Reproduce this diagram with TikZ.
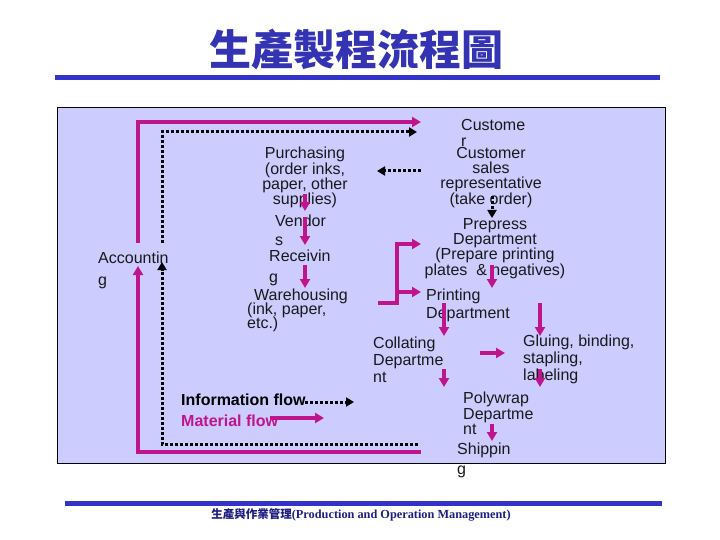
\documentclass[tikz,border=0pt]{standalone}
\usepackage{fontspec}
\setmainfont{Liberation Sans}
\newfontfamily\cjkfont{Noto Sans CJK TC}
\newfontfamily\serifrm{Liberation Serif}
\usetikzlibrary{arrows.meta}
\definecolor{lav}{RGB}{204,204,255}
\definecolor{mag}{RGB}{192,20,140}
\definecolor{ttl}{RGB}{51,51,180}
\definecolor{rulec}{RGB}{51,51,204}
\definecolor{footc}{RGB}{30,30,130}
\definecolor{txt}{RGB}{25,25,25}
\setlength{\lineskiplimit}{-8pt}
\begin{document}
\begin{tikzpicture}[x=1pt,y=-1pt,
  lbl/.style={inner sep=0pt, text=txt, font=\fontsize{16}{15.3}\selectfont},
  lblc/.style={lbl, align=center, anchor=north},
  lbll/.style={lbl, align=left, anchor=north west},
  mflow/.style={draw=mag, line width=3.5pt, -{Triangle[length=9pt,width=10pt]}},
  iflow/.style={draw=black, line width=3pt, dash pattern=on 3pt off 2pt, -{Triangle[length=8pt,width=9pt]}}]
\useasboundingbox (0,0) rectangle (720,540);
\fill[white] (0,0) rectangle (720,540);
\draw[fill=lav, line width=1pt] (57,108) rectangle (665,463);
% title and rules
\node[inner sep=0pt, text=ttl, font=\cjkfont\bfseries\fontsize{42}{42}\selectfont] (title) at (356,50) {生產製程流程圖};
\fill[rulec] (55,75) rectangle (660,80);
\fill[rulec] (65,501) rectangle (662,506);
\node[inner sep=0pt, text=footc] (foot) at (361,515) {{\cjkfont\bfseries\fontsize{11.5}{11.5}\selectfont 生產與作業管理}{\serifrm\bfseries\fontsize{12.3}{13}\selectfont(Production and Operation Management)}};
% labels
\node[lbll] (cust) at (461,119) {Custome\\[0.7pt]r};
\node[lblc] (csr) at (491,147) {Customer\\sales\\representative\\(take order)};
\node[lblc] (prep) at (495,218) {Prepress\\Department\\(Prepare printing\\plates\ \ \& negatives)};
\node[lbll] (print) at (426,289) {Printing\\[2.7pt]Department};
\node[lbll] (coll) at (373,337) {Collating\\[1.7pt]Departme\\[1.7pt]nt};
\node[lbll] (glue) at (523,335) {Gluing, binding,\\[1.7pt]stapling,\\[1.7pt]labeling};
\node[lbll] (poly) at (463,392) {Polywrap\\Departme\\nt};
\node[lbll] (ship) at (457,443) {Shippin\\[4.7pt]g};
\node[lblc] (purch) at (305,147) {Purchasing\\(order inks,\\paper, other\\supplies)};
\node[lbll] (vend) at (275,215) {Vendor\\[3.7pt]s};
\node[lbll] (recv) at (269,250) {Receivin\\[5.7pt]g};
\node[lbll] (ware) at (247,289) {\hspace{7pt}Warehousing\\[-1.3pt](ink, paper,\\[-1.3pt]etc.)};
\node[lbll] (acct) at (98,252) {Accountin\\[6.7pt]g};
\node[inner sep=0pt, anchor=west, font=\bfseries\fontsize{16}{16}\selectfont] (info) at (181,400) {Information flow};
\node[inner sep=0pt, anchor=west, text=mag, font=\bfseries\fontsize{16}{16}\selectfont] (mat) at (181,421) {Material flow};
% coordinates
\coordinate (p1a) at (305,194); \coordinate (p1b) at (305,211);
\coordinate (p2a) at (305,217); \coordinate (p2b) at (305,245);
\coordinate (p3a) at (305,265); \coordinate (p3b) at (305,288);
\coordinate (br0) at (378,303); \coordinate (br1) at (397,303);
\coordinate (br2) at (397,244); \coordinate (br3) at (421,244);
\coordinate (br4) at (397,292); \coordinate (br5) at (421,292);
\coordinate (pp1) at (492,265); \coordinate (pp2) at (492,288);
\coordinate (pc1) at (444,303); \coordinate (pc2) at (444,336);
\coordinate (pg1) at (540,303); \coordinate (pg2) at (540,336);
\coordinate (cg1) at (480,353); \coordinate (cg2) at (505,353);
\coordinate (cp1) at (444,369); \coordinate (cp2) at (444,387);
\coordinate (gp1) at (540,369); \coordinate (gp2) at (540,387);
\coordinate (ps1) at (492,424); \coordinate (ps2) at (492,441);
\coordinate (lp0) at (421,452); \coordinate (lp1) at (138,452); \coordinate (lp2) at (138,266);
\coordinate (up0) at (138,243); \coordinate (up1) at (138,122); \coordinate (up2) at (421,122);
\coordinate (lm1) at (270,418); \coordinate (lm2) at (324,418);
\coordinate (ia0) at (162,243); \coordinate (ia1) at (162,132); \coordinate (ia2) at (417,132);
\coordinate (ib0) at (421,171); \coordinate (ib1) at (377,171);
\coordinate (ic0) at (492,196); \coordinate (ic1) at (492,218);
\coordinate (id0) at (418,444); \coordinate (id1) at (162,444); \coordinate (id2) at (162,262);
\coordinate (li1) at (305,402); \coordinate (li2) at (354,402);
% material flow
\draw[mflow] (p1a) -- (p1b);
\draw[mflow] (p2a) -- (p2b);
\draw[mflow] (p3a) -- (p3b);
\draw[mflow] (br0) -- (br1) -- (br2) -- (br3);
\draw[mflow] (br4) -- (br5);
\draw[mflow] (pp1) -- (pp2);
\draw[mflow] (pc1) -- (pc2);
\draw[mflow] (pg1) -- (pg2);
\draw[mflow] (cg1) -- (cg2);
\draw[mflow] (cp1) -- (cp2);
\draw[mflow] (gp1) -- (gp2);
\draw[mflow] (ps1) -- (ps2);
\draw[mflow] (lp0) -- (lp1) -- (lp2);
\draw[mflow] (up0) -- (up1) -- (up2);
\draw[mflow] (lm1) -- (lm2);
% information flow
\draw[iflow] (ia0) -- (ia1) -- (ia2);
\draw[iflow] (ib0) -- (ib1);
\draw[iflow] (ic0) -- (ic1);
\draw[iflow] (id0) -- (id1) -- (id2);
\draw[iflow] (li1) -- (li2);
\end{tikzpicture}
\end{document}
